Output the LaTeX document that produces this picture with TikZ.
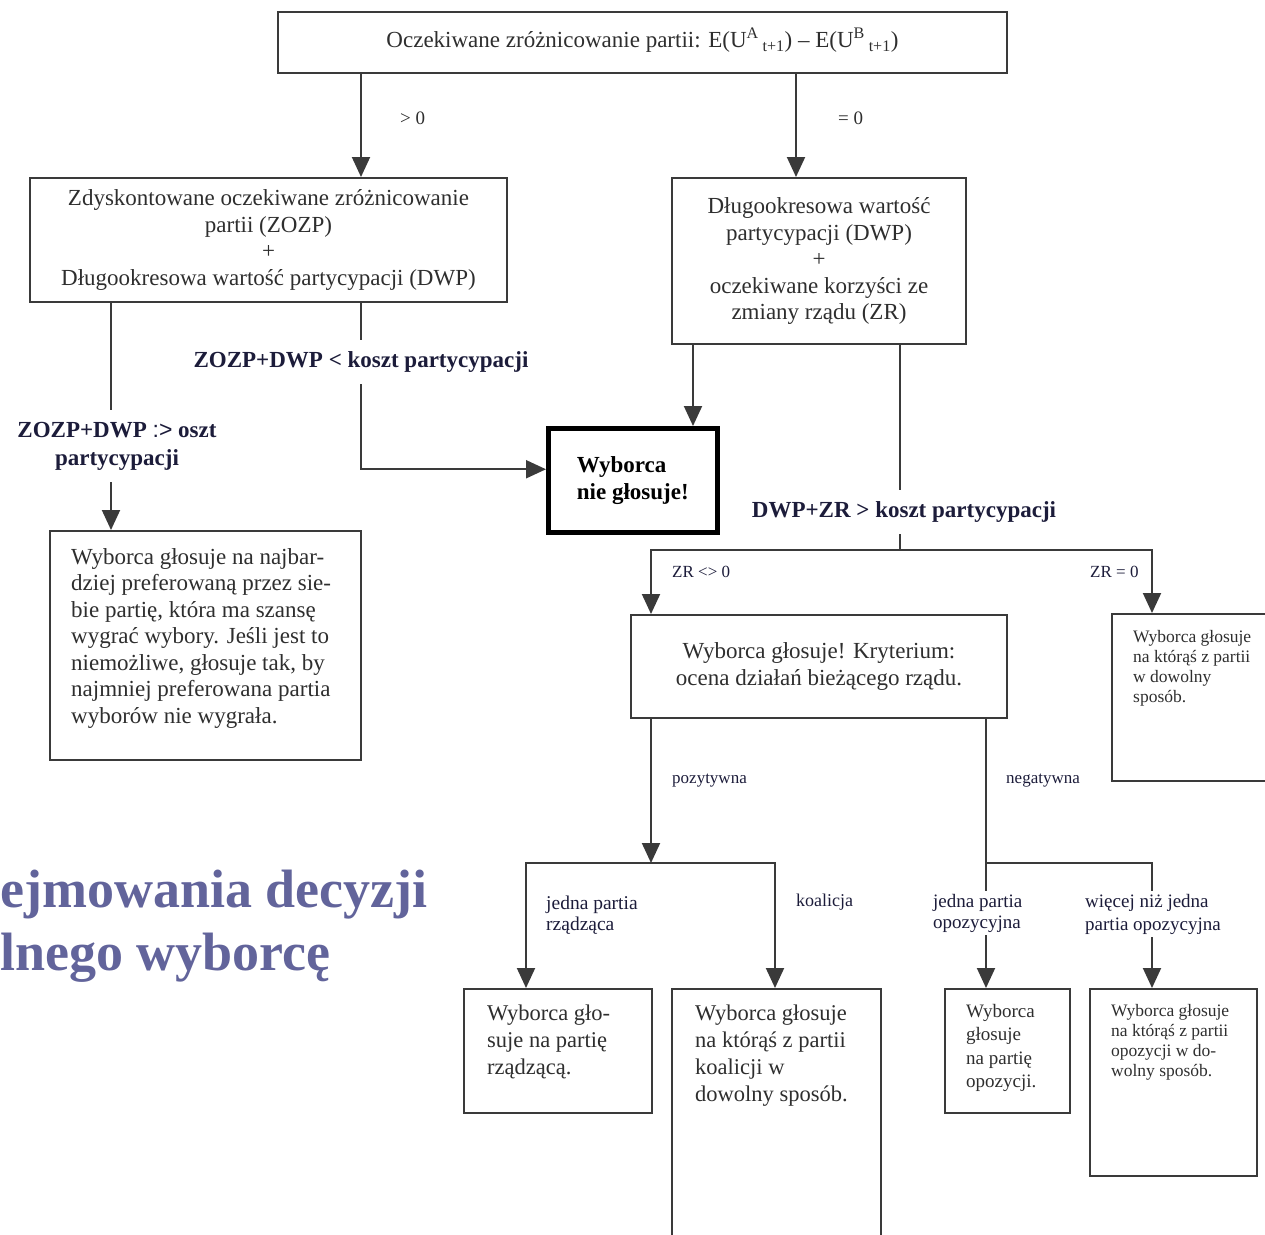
\documentclass[tikz,border=0pt]{standalone}
\usepackage{fontspec}
\setmainfont{Liberation Serif}
\newfontfamily\gtsans{Liberation Sans}
\usetikzlibrary{arrows.meta}
\definecolor{linegray}{HTML}{3A3A3A}
\definecolor{txtgray}{HTML}{2E2E2E}
\definecolor{labnavy}{HTML}{1C1C3A}
\definecolor{titleblue}{HTML}{62649B}
\newcommand{\fsz}[2]{\fontsize{#1}{#2}\selectfont}
\tikzset{
  box/.style={draw=linegray,line width=2pt,inner sep=0pt,anchor=north west,
    text=txtgray,align=center,font=\fsz{23}{26.5}},
  thickbox/.style={box,draw=black,line width=4.5pt,text=black,align=left,
    font=\bfseries\fsz{23}{27}},
  txt/.style={anchor=north west,inner sep=0pt,align=left,text=txtgray},
  lab/.style={fill=white,inner xsep=2pt,inner ysep=12pt,align=center,
    text=labnavy,font=\bfseries\fsz{23}{28}},
  small/.style={inner sep=0pt,anchor=west,align=left,text=labnavy},
  conn/.style={draw=linegray,line width=2pt}
}
\begin{document}
\begin{tikzpicture}[x=1pt,y=-1pt,>={Triangle[width=18pt,length=20pt]}]
\clip (0,0) rectangle (1265,1234);

\node[box,minimum width=729pt,minimum height=61pt] (top) at (277,11)
  {Oczekiwane zróżnicowanie partii: E(U\textsuperscript{A}\,\textsubscript{t+1}) – E(U\textsuperscript{B}\,\textsubscript{t+1})\rule[-9pt]{0pt}{1pt}};
\node[box,minimum width=477pt,minimum height=124pt] (zozp) at (29,177)
  {Zdyskontowane oczekiwane zróżnicowanie\\partii (ZOZP)\\+\\Długookresowa wartość partycypacji (DWP)};
\node[box,minimum width=294pt,minimum height=166pt] (dwp) at (671,177)
  {Długookresowa wartość\\partycypacji (DWP)\\+\\oczekiwane korzyści ze\\zmiany rządu (ZR)};
\node[thickbox,minimum width=169pt,minimum height=104pt] (nie) at (546,426) {Wyborca\\nie głosuje!};

\node[box,minimum width=311pt,minimum height=229pt] (vote1) at (49,530) {};
\node[txt,font=\fsz{23}{26.5}] (vote1t) at (71,548)
  {Wyborca głosuje na najbar-\\dziej preferowaną przez sie-\\bie partię, która ma szansę\\wygrać wybory. Jeśli jest to\\niemożliwe, głosuje tak, by\\najmniej preferowana partia\\wyborów nie wygrała.};
\node[box,minimum width=376pt,minimum height=103pt] (kryt) at (630,614)
  {Wyborca głosuje! Kryterium:\\ocena działań bieżącego rządu.};
\node[box,minimum width=200pt,minimum height=167pt] (any) at (1111,613) {};
\node[txt,font=\fsz{17.5}{20}] (anyt) at (1133,630) {Wyborca głosuje\\na którąś z partii\\w dowolny\\sposób.};

\node[box,minimum width=188pt,minimum height=124pt] (rzad) at (463,988) {};
\node[txt,font=\fsz{22.5}{27}] (rzadt) at (487,1005) {Wyborca gło-\\suje na partię\\rządzącą.};
\node[box,minimum width=209pt,minimum height=280pt] (koal) at (671,988) {};
\node[txt,font=\fsz{22.5}{27}] (koalt) at (695,1005) {Wyborca głosuje\\na którąś z partii\\koalicji w\\dowolny sposób.};
\node[box,minimum width=125pt,minimum height=124pt] (opoz1) at (944,988) {};
\node[txt,font=\fsz{19}{23.5}] (opoz1t) at (966,1004) {Wyborca\\głosuje\\na partię\\opozycji.};
\node[box,minimum width=167pt,minimum height=187pt] (opoz2) at (1089,988) {};
\node[txt,font=\fsz{17.5}{20}] (opoz2t) at (1111,1004) {Wyborca głosuje\\na którąś z partii\\opozycji w do-\\wolny sposób.};

\coordinate (xa) at (361,0);
\coordinate (xb) at (796,0);
\coordinate (xc) at (111,0);
\coordinate (xd) at (693,0);
\coordinate (xf) at (651,0);
\coordinate (xg) at (1152,0);
\coordinate (xi) at (526,0);
\coordinate (xj) at (775,0);
\coordinate (split) at (900,550);
\coordinate (fork1) at (651,863);
\coordinate (fork2) at (986,863);

\draw[conn,->] (top.south -| xa) -- (zozp.north -| xa);
\draw[conn,->] (top.south -| xb) -- (dwp.north -| xb);
\draw[conn,->] (zozp.south -| xc) -- (vote1.north -| xc);
\draw[conn,->] (zozp.south -| xa) |- ([yshift=11pt]nie.west);
\draw[conn,->] (dwp.south -| xd) -- (nie.north -| xd);
\draw[conn] (dwp.south -| split) -- (split);
\draw[conn,->] (split) -| (kryt.north -| xf);
\draw[conn,->] (split) -| (any.north -| xg);
\draw[conn,->] (kryt.south -| fork1) -- (fork1);
\draw[conn,->] (fork1) -| (rzad.north -| xi);
\draw[conn,->] (fork1) -| (koal.north -| xj);
\draw[conn] (kryt.south -| fork2) -- (fork2);
\draw[conn,->] (fork2) -- (opoz1.north -| fork2);
\draw[conn,->] (fork2) -| (opoz2.north -| xg);

\node[lab] (c1) at (361,362) {ZOZP+DWP < koszt partycypacji};
\node[lab] (c2) at (117,446) {ZOZP+DWP {\gtsans\mdseries :>} oszt\\partycypacji};
\node[lab] (c3) at (904,512) {DWP+ZR > koszt partycypacji};

\node[small,text=txtgray,font=\fsz{19}{22}] (gt0) at (400,118) {> 0};
\node[small,text=txtgray,font=\fsz{19}{22}] (eq0) at (838,118) {= 0};
\node[small,font=\fsz{17}{20}] (zrn) at (672,572) {ZR <> 0};
\node[small,font=\fsz{17}{20}] (zre) at (1090,572) {ZR = 0};
\node[small,font=\fsz{17}{20}] (poz) at (672,781) {pozytywna};
\node[small,font=\fsz{17}{20}] (neg) at (1006,781) {negatywna};
\node[small,font=\fsz{19.5}{20.5}] (jpr) at (546,915) {jedna partia\\rządząca};
\node[small,font=\fsz{18}{20.5}] (koa) at (796,902) {koalicja};
\node[small,fill=white,inner sep=3pt,font=\fsz{19}{21}] (jpo) at (930,913) {jedna partia\\opozycyjna};
\node[small,fill=white,inner sep=3pt,font=\fsz{19}{23}] (wnj) at (1082,914) {więcej niż jedna\\partia opozycyjna};

\node[txt,text=titleblue,font=\bfseries\fsz{54}{63}] (title) at (0,870) {ejmowania decyzji\\lnego wyborcę};
\end{tikzpicture}
\end{document}
